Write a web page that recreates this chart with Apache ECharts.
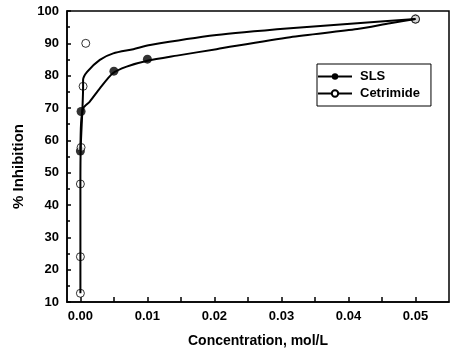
<!DOCTYPE html>
<html>
<head>
<meta charset="utf-8">
<script src="https://cdn.jsdelivr.net/npm/echarts@6/dist/echarts.min.js"></script>
<style>
html,body{margin:0;padding:0;background:#fff;}
#chart{width:461px;height:355px;}
</style>
</head>
<body>
<div id="chart"></div>
<script>
// measured points [concentration, % inhibition]
var slsPoints = [[0, 56.7], [0.0001, 68.9], [0.005, 81.4], [0.01, 85.1], [0.05, 97.5]];
var cetPoints = [[0, 12.7], [0, 24.0], [0, 46.5], [0.0001, 57.8], [0.0004, 76.7], [0.0008, 90.0], [0.05, 97.5]];
// fitted curves
var slsFit = [[0, 56.7], [0.0001, 65.3], [0.0004, 69.9], [0.0014, 72.0], [0.0029, 76.1], [0.0048, 80.7],
	[0.0069, 82.8], [0.0100, 84.6], [0.0144, 86.2], [0.0203, 88.2], [0.0313, 91.9], [0.0413, 94.4],
	[0.0462, 96.2], [0.05, 97.5]];
var cetFit = [[0, 12.7], [0, 24.0], [0, 46.5], [0.00005, 57.8], [0.0004, 76.6], [0.0004, 78.7],
	[0.001, 81.2], [0.0029, 84.9], [0.0049, 86.9], [0.0079, 88.2], [0.0104, 89.5], [0.0203, 92.6],
	[0.0313, 94.7], [0.0413, 96.2], [0.05, 97.5]];
var xTicks = [0, 0.005, 0.01, 0.015, 0.02, 0.025, 0.03, 0.035, 0.04, 0.045, 0.05];
var xLabels = [0, 0.01, 0.02, 0.03, 0.04, 0.05];

var font = 'Liberation Sans, Arial, sans-serif';
var chart = echarts.init(document.getElementById('chart'));
var option = {
	backgroundColor: '#fff',
	animation: false,
	grid: {
		left: 67, right: 12, top: 11, bottom: 53,
		show: true, borderColor: '#000', borderWidth: 1.5
	},
	legend: {
		data: ['SLS', 'Cetrimide'],
		orient: 'vertical',
		left: 317, top: 64,
		padding: [6, 11, 6, 0],
		itemGap: 4,
		itemWidth: 34,
		itemHeight: 8,
		borderColor: '#000',
		borderWidth: 1,
		textStyle: {fontFamily: font, fontWeight: 'bold', fontSize: 13, color: '#000', padding: [0, 0, 0, 3]}
	},
	xAxis: {
		type: 'value',
		min: -0.002, max: 0.055,
		name: 'Concentration, mol/L',
		nameLocation: 'middle',
		nameGap: 32,
		nameTextStyle: {fontFamily: font, fontWeight: 'bold', fontSize: 14, color: '#000'},
		axisLine: {onZero: false, lineStyle: {color: '#000', width: 1.5}},
		axisTick: {inside: true, length: 5, customValues: xTicks, lineStyle: {color: '#000', width: 1.5}},
		axisLabel: {
			customValues: xLabels, margin: 8,
			fontFamily: font, fontWeight: 'bold', fontSize: 13, color: '#000',
			formatter: function (v) { return v.toFixed(2); }
		},
		splitLine: {show: false}
	},
	yAxis: {
		type: 'value',
		min: 10, max: 100, interval: 10,
		name: '% Inhibition',
		nameLocation: 'middle',
		nameGap: 41,
		nameTextStyle: {fontFamily: font, fontWeight: 'bold', fontSize: 15, color: '#000', padding: [0, 20, 0, 0]},
		axisLine: {onZero: false, lineStyle: {color: '#000', width: 1.5}},
		axisTick: {inside: true, length: 4, lineStyle: {color: '#000', width: 1.5}},
		minorTick: {show: true, splitNumber: 2, length: 3, lineStyle: {color: '#000', width: 1.5}},
		axisLabel: {margin: 8, fontFamily: font, fontWeight: 'bold', fontSize: 13, color: '#000'},
		splitLine: {show: false}
	},
	series: [{
		name: 'SLS',
		type: 'line',
		data: slsFit,
		symbol: 'circle',
		showSymbol: false,
		smooth: 0.25,
		itemStyle: {color: '#000'},
		lineStyle: {color: '#000', width: 2}
	}, {
		name: 'Cetrimide',
		type: 'line',
		data: cetFit,
		symbol: 'emptyCircle',
		showSymbol: false,
		smooth: 0.25,
		itemStyle: {color: '#000'},
		lineStyle: {color: '#000', width: 2}
	}, {
		name: 'SLS data',
		type: 'scatter',
		data: slsPoints,
		symbol: 'circle',
		symbolSize: 9,
		itemStyle: {color: '#000'}
	}, {
		name: 'Cetrimide data',
		type: 'scatter',
		data: cetPoints,
		symbol: 'circle',
		symbolSize: 8,
		itemStyle: {color: '#fff', borderColor: '#000', borderWidth: 1}
	}]
};
chart.setOption(option);
</script>
</body>
</html>
